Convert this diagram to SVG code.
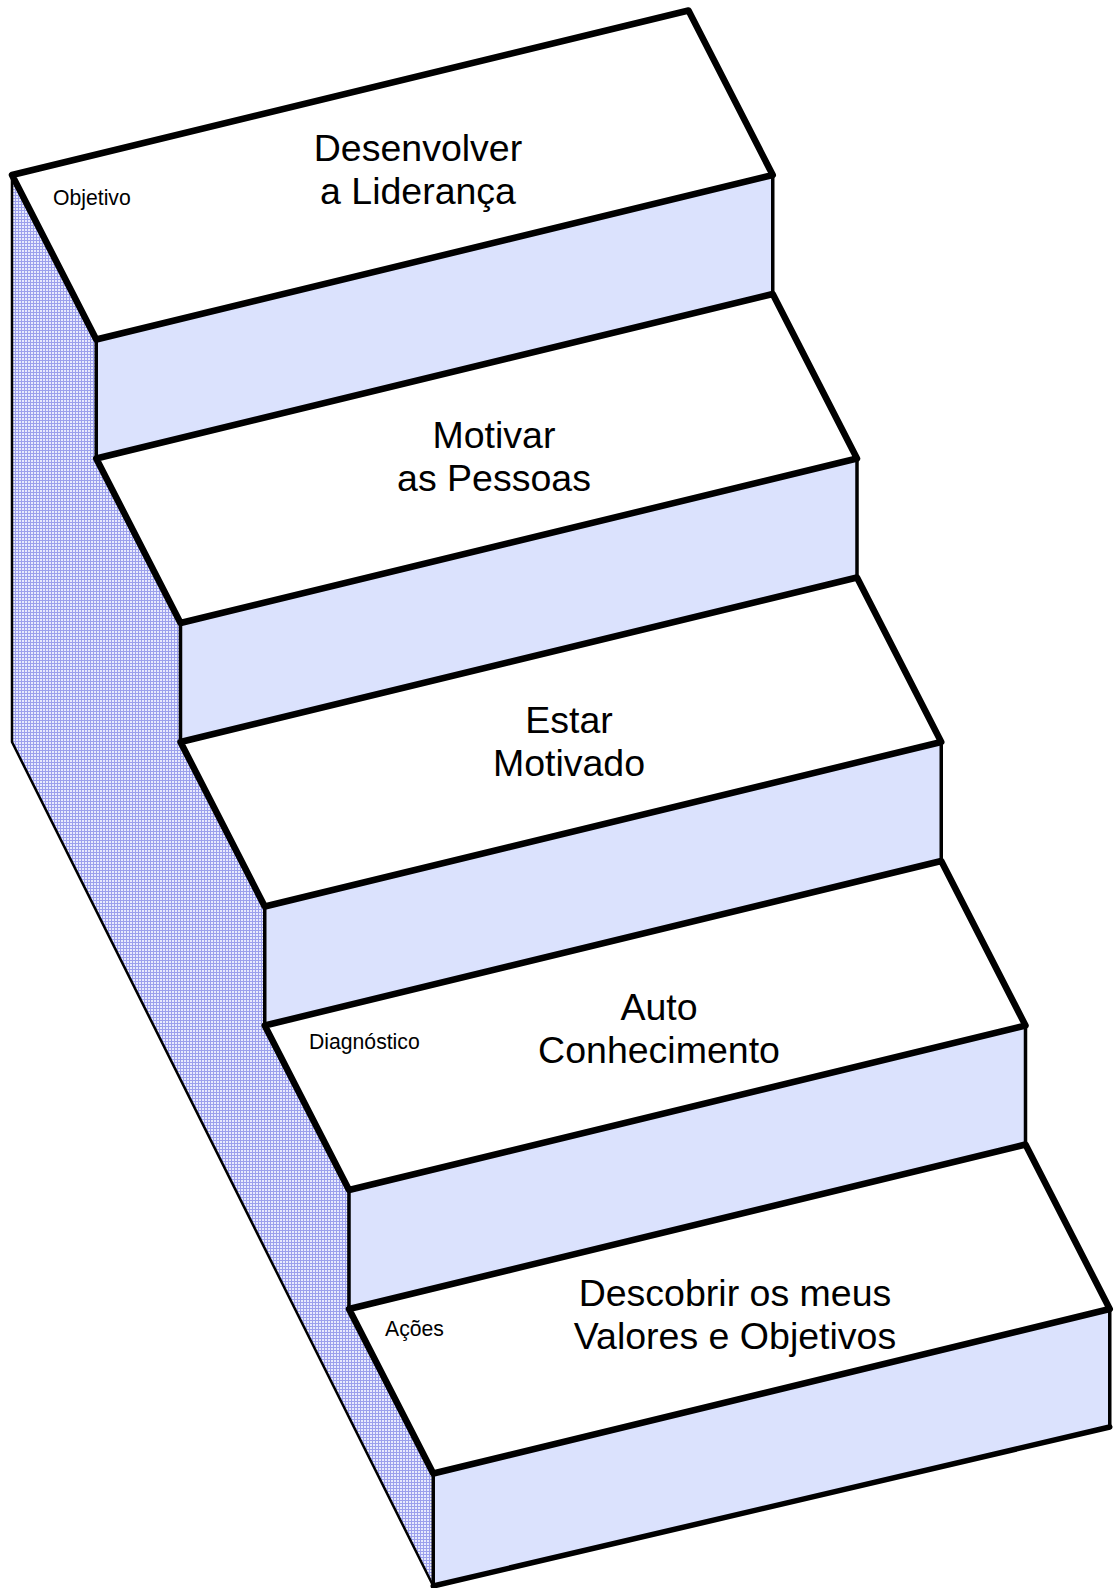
<svg xmlns="http://www.w3.org/2000/svg" width="1116" height="1588" viewBox="0 0 1116 1588">
<defs>
<pattern id="mesh" width="3" height="3" patternUnits="userSpaceOnUse">
<rect width="3" height="3" fill="#e8eafd"/>
<rect width="3" height="1" fill="#9ca0ec"/>
<rect width="1" height="3" fill="#9ca0ec"/>
</pattern>
</defs>
<style>
.side{fill:url(#mesh);stroke:#000;stroke-width:2.5;stroke-linejoin:round}
.riser{fill:#dbe2fd;stroke:#000;stroke-width:3.5;stroke-linejoin:round}
.top{fill:#fff;stroke:#000;stroke-width:6.5;stroke-linejoin:round}
.big{font-family:"Liberation Sans",Arial,sans-serif;font-size:37.5px;fill:#000;text-anchor:middle}
.small{font-family:"Liberation Sans",Arial,sans-serif;font-size:21.2px;fill:#000}
</style>
<rect width="1116" height="1588" fill="#fff"/>
<g id="side">
<polygon class="side" points="12,175 96.25,339.5 96.25,458.5 180.5,623 180.5,742 264.75,906.5 264.75,1025.5 349,1190 349,1309 433.25,1473.5 433.25,1586 12,742"/>
</g>
<g id="step1">
<polygon class="riser" points="96.25,339.5 772.75,175 772.75,294 96.25,458.5"/>
<polygon class="top" points="12,175 688.5,10.5 772.75,175 96.25,339.5"/>
<text class="big" x="418" y="161">Desenvolver</text>
<text class="big" x="418" y="204">a Liderança</text>
<text class="small" x="53" y="205">Objetivo</text>
</g>
<g id="step2">
<polygon class="riser" points="180.5,623 857,458.5 857,577.5 180.5,742"/>
<polygon class="top" points="96.25,458.5 772.75,294 857,458.5 180.5,623"/>
<text class="big" x="494" y="448">Motivar</text>
<text class="big" x="494" y="491">as Pessoas</text>
</g>
<g id="step3">
<polygon class="riser" points="264.75,906.5 941.25,742 941.25,861 264.75,1025.5"/>
<polygon class="top" points="180.5,742 857,577.5 941.25,742 264.75,906.5"/>
<text class="big" x="569" y="733">Estar</text>
<text class="big" x="569" y="776">Motivado</text>
</g>
<g id="step4">
<polygon class="riser" points="349,1190 1025.5,1025.5 1025.5,1144.5 349,1309"/>
<polygon class="top" points="264.75,1025.5 941.25,861 1025.5,1025.5 349,1190"/>
<text class="big" x="659" y="1020">Auto</text>
<text class="big" x="659" y="1063">Conhecimento</text>
<text class="small" x="309" y="1049">Diagnóstico</text>
</g>
<g id="step5">
<polygon class="riser" points="433.25,1473.5 1109.75,1309 1109.75,1427 433.25,1586"/>
<line x1="433.25" y1="1586" x2="1109.75" y2="1427" stroke="#000" stroke-width="5.5" stroke-linecap="round"/>
<polygon class="top" points="349,1309 1025.5,1144.5 1109.75,1309 433.25,1473.5"/>
<text class="big" x="735" y="1306">Descobrir os meus</text>
<text class="big" x="735" y="1349">Valores e Objetivos</text>
<text class="small" x="385" y="1336">Ações</text>
</g>
</svg>
